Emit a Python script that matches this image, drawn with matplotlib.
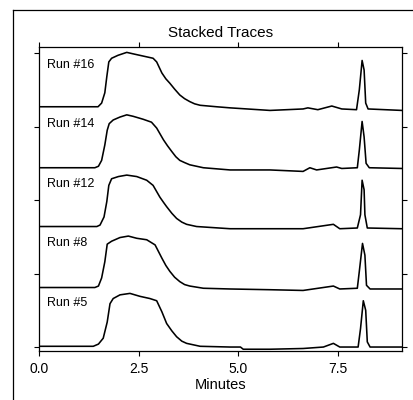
import matplotlib
matplotlib.use("Agg")
import matplotlib.pyplot as plt
from matplotlib.lines import Line2D

plt.rcParams['font.family'] = ['Liberation Sans', 'DejaVu Sans']

# ---- data -------------------------------------------------------------
run_names = ["Run #5", "Run #8", "Run #12", "Run #14", "Run #16"]
run_offsets = [0.0, 0.81, 1.62, 2.43, 3.24]

t_run16 = [0.00, 1.48, 1.57, 1.65, 1.70, 1.75, 1.82, 1.98, 2.20, 2.36, 2.61, 2.86, 2.95,
           3.08, 3.18, 3.28, 3.40, 3.53, 3.65, 3.78, 3.90, 4.04, 4.45, 4.79, 5.79, 6.62, 6.74,
           6.99, 7.34, 7.59, 7.96, 8.03, 8.10, 8.15, 8.19, 8.25, 9.10]
y_run16 = [0.03, 0.03, 0.08, 0.22, 0.44, 0.64, 0.69, 0.73, 0.77, 0.75, 0.72, 0.69, 0.64,
           0.49, 0.41, 0.35, 0.27, 0.19, 0.14, 0.10, 0.07, 0.05, 0.03, 0.015, -0.02, 0.00,
           0.015, -0.01, 0.04, 0.00, -0.01, 0.26, 0.66, 0.53, 0.08, 0.00, -0.02]

t_run14 = [0.00, 1.40, 1.49, 1.57, 1.65, 1.71, 1.76, 1.86, 2.03, 2.20, 2.36, 2.61, 2.82,
           2.95, 3.12, 3.22, 3.33, 3.43, 3.53, 3.65, 3.78, 3.95, 4.12, 4.79, 5.79, 6.62,
           6.79, 6.96, 7.46, 7.59, 7.98, 8.03, 8.10, 8.15, 8.20, 8.28, 9.10]
y_run14 = [0.01, 0.01, 0.03, 0.11, 0.32, 0.52, 0.61, 0.66, 0.70, 0.73, 0.71, 0.67, 0.63,
           0.55, 0.39, 0.31, 0.23, 0.16, 0.11, 0.08, 0.05, 0.03, 0.01, -0.02, -0.02, -0.04,
           0.01, -0.02, 0.02, 0.00, 0.01, 0.25, 0.64, 0.43, 0.07, 0.01, 0.00]

t_run12 = [0.00, 1.45, 1.53, 1.63, 1.70, 1.75, 1.82, 1.99, 2.20, 2.45, 2.70, 2.86, 3.03,
           3.12, 3.20, 3.33, 3.45, 3.58, 3.70, 3.95, 4.79, 5.79, 6.62, 7.38, 7.54, 7.98,
           8.06, 8.10, 8.15, 8.17, 8.23, 9.10]
y_run12 = [0.02, 0.02, 0.04, 0.15, 0.36, 0.58, 0.67, 0.70, 0.72, 0.70, 0.65, 0.58, 0.42,
           0.35, 0.29, 0.20, 0.13, 0.08, 0.05, 0.02, -0.01, -0.01, -0.01, 0.05, -0.01, 0.00,
           0.18, 0.65, 0.52, 0.18, 0.00, -0.01]

t_run8 = [0.00, 1.40, 1.49, 1.57, 1.65, 1.71, 1.82, 2.03, 2.24, 2.45, 2.70, 2.91, 3.08,
          3.18, 3.28, 3.40, 3.53, 3.65, 3.78, 4.12, 4.79, 5.79, 6.62, 7.38, 7.54, 7.98,
          8.03, 8.11, 8.17, 8.21, 8.30, 9.10]
y_run8 = [0.00, 0.00, 0.02, 0.13, 0.35, 0.59, 0.63, 0.68, 0.70, 0.67, 0.65, 0.58, 0.40,
          0.30, 0.22, 0.14, 0.08, 0.04, 0.02, -0.01, -0.02, -0.03, -0.04, 0.02, -0.02, -0.01,
          0.22, 0.60, 0.44, 0.03, -0.02, -0.02]

t_run5 = [0.00, 1.36, 1.49, 1.61, 1.71, 1.78, 1.86, 2.03, 2.28, 2.53, 2.78, 2.95, 3.08,
          3.20, 3.33, 3.45, 3.58, 3.70, 4.04, 4.79, 5.05, 5.12, 5.79, 6.62, 7.13, 7.38,
          7.54, 8.00, 8.06, 8.13, 8.19, 8.23, 8.30, 9.10]
y_run5 = [0.01, 0.01, 0.04, 0.12, 0.34, 0.59, 0.66, 0.71, 0.73, 0.69, 0.66, 0.63, 0.48,
          0.32, 0.22, 0.14, 0.08, 0.05, 0.01, 0.00, 0.00, -0.03, -0.03, -0.02, 0.00, 0.05,
          0.00, 0.00, 0.25, 0.63, 0.50, 0.07, 0.00, 0.00]

run_times = [t_run5, t_run8, t_run12, t_run14, t_run16]
run_values = [y_run5, y_run8, y_run12, y_run14, y_run16]

x_ticks = [0.0, 2.5, 5.0, 7.5]
x_tick_labels = ["0.0", "2.5", "5.0", "7.5"]
y_ticks = [0, 1, 2, 3, 4]

# ---- figure -------------------------------------------------------------
W, H = 413, 400
fig = plt.figure(figsize=(W / 100, H / 100), dpi=100)
fig.patch.set_facecolor("white")

# outer frame (left and top lines of a surrounding box)
fig.add_artist(Line2D([13 / W, 13 / W], [0, 1 - 10 / H], color="black", lw=0.9))
fig.add_artist(Line2D([13 / W, 1], [1 - 10 / H, 1 - 10 / H], color="black", lw=0.9))

left, right, top, bottom = 39, 402, 46.5, 351
ax = fig.add_axes([left / W, 1 - bottom / H, (right - left) / W, (bottom - top) / H])

for name, off, ts, vs in zip(run_names, run_offsets, run_times, run_values):
    ax.plot(ts, [v + off for v in vs], color="black", lw=1.15, solid_joinstyle="round")
    ax.text(0.19, off + 0.56, name, fontsize=9, ha="left", va="baseline")

ax.set_xlim(0, 9.1)
ax.set_ylim(-0.054, 4.09)
ax.set_xticks(x_ticks)
ax.set_xticklabels(x_tick_labels, fontsize=10)
ax.set_yticks(y_ticks)
ax.set_yticklabels([])
ax.tick_params(axis="both", direction="out", length=3.5, width=0.8, pad=4.5,
               top=True, right=True, labeltop=False, labelright=False)
for s in ax.spines.values():
    s.set_linewidth(0.9)

ax.set_xlabel("Minutes", fontsize=10.5, labelpad=1.5)
fig.text(221 / W, 1 - 36.7 / H, "Stacked Traces", fontsize=11, ha="center", va="baseline")

fig.savefig("out.png", dpi=100)
